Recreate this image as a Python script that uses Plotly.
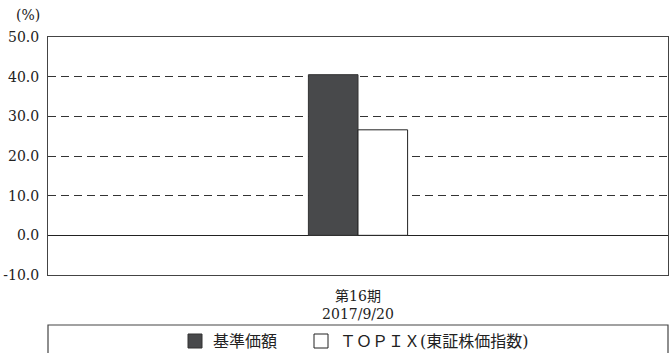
import plotly.graph_objects as go

categories = ["第16期<br>2017/9/20"]
series_names = ["基準価額", "ＴＯＰＩＸ(東証株価指数)"]
fund_values = [40.5]
topix_values = [26.6]
y_ticks = [-10, 0, 10, 20, 30, 40, 50]
y_tick_labels = [f"{v:.1f}" for v in y_ticks]

FONT = "DejaVu Serif, Noto Sans CJK JP, serif"
W, H = 669, 353
L, R, T, B = 48, 1, 37, 78
PW, PH = W - L - R, H - T - B

def px_x(x):
    return (x - L) / PW

def px_y(y):
    return (H - B - y) / PH

fig = go.Figure()
fig.add_trace(go.Bar(x=categories, y=fund_values, name=series_names[0],
                     marker=dict(color="#48494b", line=dict(color="#333333", width=1)),
                     showlegend=False))
fig.add_trace(go.Bar(x=categories, y=topix_values, name=series_names[1],
                     marker=dict(color="#ffffff", line=dict(color="#222222", width=1)),
                     showlegend=False))

shapes = [
    dict(type="rect", xref="paper", yref="paper", x0=0, x1=1,
         y0=px_y(357), y1=px_y(325), line=dict(color="#444444", width=1.2),
         fillcolor="rgba(0,0,0,0)"),
    dict(type="rect", xref="paper", yref="paper", x0=px_x(188), x1=px_x(202),
         y0=px_y(348), y1=px_y(334), line=dict(color="#333333", width=1),
         fillcolor="#48494b"),
    dict(type="rect", xref="paper", yref="paper", x0=px_x(314), x1=px_x(328),
         y0=px_y(348), y1=px_y(334), line=dict(color="#222222", width=1),
         fillcolor="#ffffff"),
]

annotations = [
    dict(text=series_names[0], xref="paper", yref="paper", x=px_x(211), y=px_y(341),
         xanchor="left", yanchor="middle", showarrow=False,
         font=dict(family=FONT, size=16, color="#222222")),
    dict(text=series_names[1], xref="paper", yref="paper", x=px_x(338), y=px_y(341),
         xanchor="left", yanchor="middle", showarrow=False,
         font=dict(family=FONT, size=16, color="#222222")),
    dict(text="(%)", xref="paper", yref="paper", x=px_x(42), y=px_y(15),
         xanchor="right", yanchor="middle", showarrow=False,
         font=dict(family=FONT, size=14, color="#222222")),
]

fig.update_layout(
    width=W, height=H,
    margin=dict(l=L, r=R, t=T, b=B, pad=0),
    paper_bgcolor="white", plot_bgcolor="white",
    barmode="group", bargap=0.84, bargroupgap=0,
    font=dict(family=FONT, size=14, color="#222222"),
    shapes=shapes, annotations=annotations,
    showlegend=False,
)
fig.update_xaxes(
    type="category", showgrid=False, showline=True, mirror=True,
    linecolor="#444444", linewidth=1, ticks="", ticklabelstandoff=8,
    tickfont=dict(family=FONT, size=14),
)
fig.update_yaxes(
    range=[-10, 50], tickvals=y_ticks, ticktext=y_tick_labels,
    showgrid=True, gridcolor="#333333", gridwidth=1, griddash="8px,5px",
    zeroline=True, zerolinecolor="#222222", zerolinewidth=1,
    showline=True, mirror=True, linecolor="#444444", linewidth=1,
    ticks="", ticklabelstandoff=5, tickfont=dict(family=FONT, size=14),
)

fig.write_html("out.html")
